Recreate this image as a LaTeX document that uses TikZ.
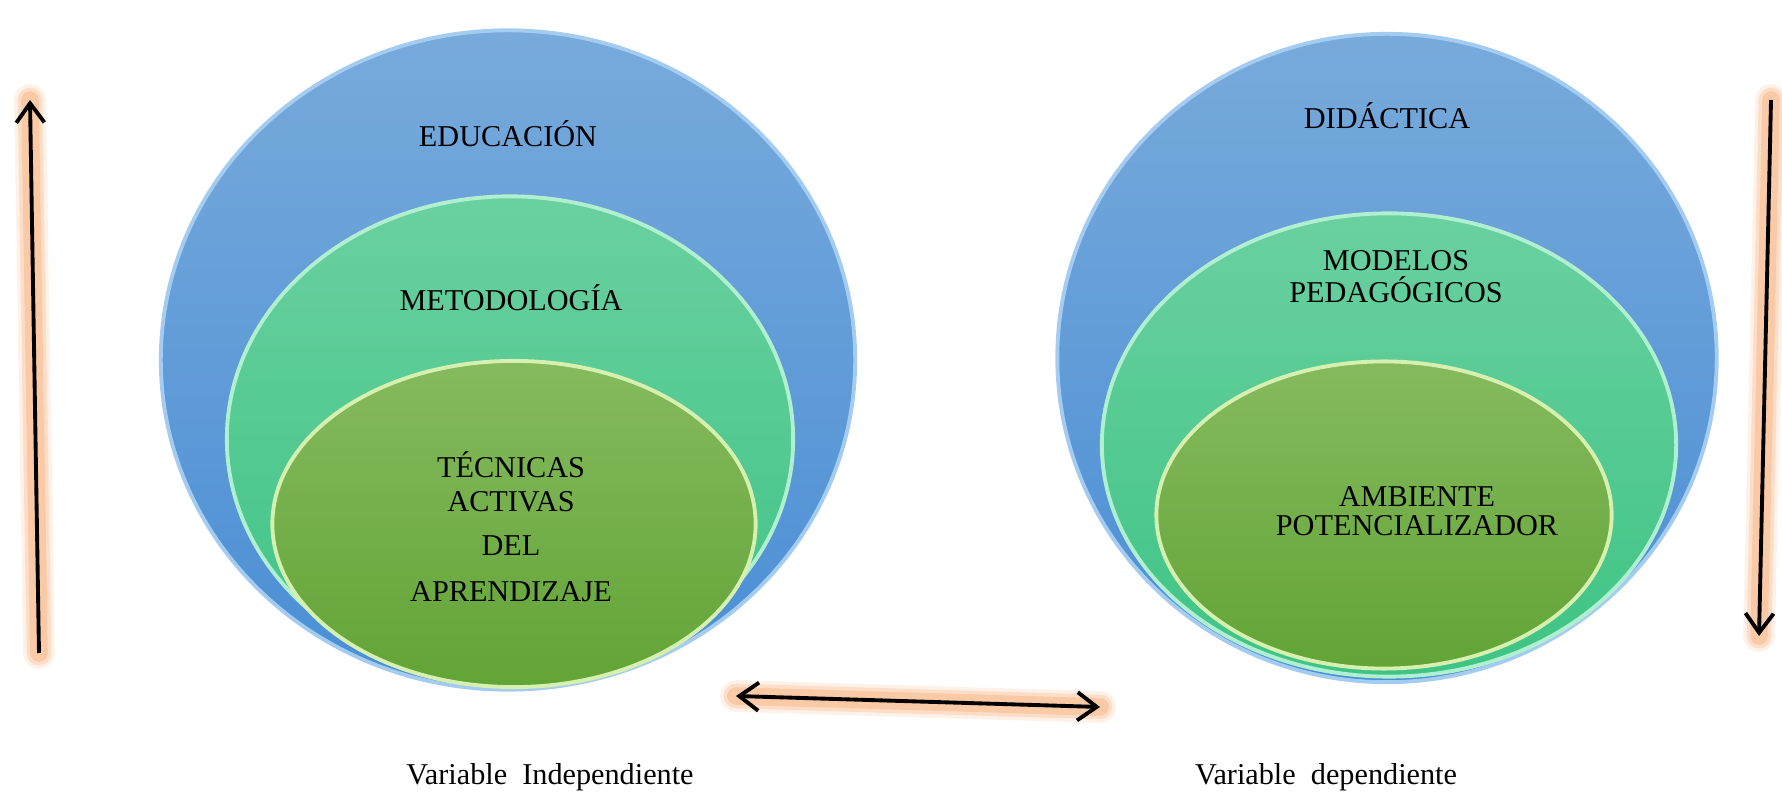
\documentclass[tikz,border=0pt]{standalone}
\usepackage{fontspec}
\setmainfont{Liberation Serif}
\usepackage[HTML]{xcolor}
\usepackage{tikz}
\usetikzlibrary{positioning, arrows.meta, shapes.geometric}

\definecolor{blueTop}{HTML}{78AADB}
\definecolor{blueBot}{HTML}{4A8ED5}
\definecolor{blueRim}{HTML}{A4CCF0}
\definecolor{tealTop}{HTML}{6AD0A0}
\definecolor{tealBot}{HTML}{3EC485}
\definecolor{tealRim}{HTML}{B0F0D0}
\definecolor{leafTop}{HTML}{86BA5E}
\definecolor{leafBot}{HTML}{62A436}
\definecolor{leafRim}{HTML}{D6F0B0}
\definecolor{glowCol}{HTML}{F8B07C}

\begin{document}
\begin{tikzpicture}[
    x=0.01cm, y=-0.01cm,
    >={Straight Barb[length=5.5pt,width=8pt]},
    every node/.style={font=\fontsize{8.6}{9.7}\selectfont},
    bubble/.style={ellipse, inner sep=0pt, outer sep=0pt, line width=1.1pt},
    bigEll/.style={bubble, top color=blueTop, bottom color=blueBot, draw=blueRim},
    midEll/.style={bubble, top color=tealTop, bottom color=tealBot, draw=tealRim},
    smallEll/.style={bubble, top color=leafTop, bottom color=leafBot, draw=leafRim},
    txt/.style={align=center, inner sep=0pt},
    glowA/.style={line width=9pt, draw=glowCol, opacity=0.18, line cap=round},
    glowB/.style={line width=7pt, draw=glowCol, opacity=0.3, line cap=round},
    glowC/.style={line width=5pt, draw=glowCol, opacity=0.45, line cap=round},
    arrowline/.style={line width=1.1pt}
]
    \useasboundingbox (0,0) rectangle (1782,795);

    % Left circles
    \node[bigEll, minimum width=6.94cm, minimum height=6.59cm] (E) at (508,360) {};
    \node[midEll, minimum width=5.66cm, minimum height=4.85cm] (M) at (510,439) {};
    \node[smallEll, minimum width=4.83cm, minimum height=3.26cm] (T) at (514,524) {};

    % Right circles
    \node[bigEll, minimum width=6.59cm, minimum height=6.48cm] (D) at (1387,358) {};
    \node[midEll, minimum width=5.74cm, minimum height=4.63cm] (P) at (1389,445) {};
    \node[smallEll, minimum width=4.55cm, minimum height=3.07cm] (A) at (1384,515) {};

    % Labels
    \node[txt] (tE) at (508,134) {EDUCACIÓN};
    \node[txt] (tM) at (511,298) {METODOLOGÍA};
    \node[txt] (tT) at (511,527) {TÉCNICAS\\ACTIVAS\\[2.8pt]DEL\\[3.4pt]APRENDIZAJE};
    \node[txt] (tD) at (1387,116) {DIDÁCTICA};
    \node[txt] (tP) at (1396,277) {MODELOS\\[-0.6pt]PEDAGÓGICOS};
    \node[txt] (tA) at (1417,511) {AMBIENTE\\[-1.4pt]POTENCIALIZADOR};
    \node[txt] (vI) at (550,777) {Variable\ \ Independiente};
    \node[txt] (vD) at (1326,777) {Variable\ \ dependiente};

    % Arrow ends
    \coordinate (L1) at (39,653);
    \coordinate (L2) at (30,100);
    \coordinate (R1) at (1771,100);
    \coordinate (R2) at (1759,636);
    \coordinate (B1) at (736,696);
    \coordinate (B2) at (1100,707);

    % Draw arrows
    \foreach \g in {glowA, glowB, glowC} {
        \draw[\g] (L1) -- (L2);
        \draw[\g] (R1) -- (R2);
        \draw[\g] (B1) -- (B2);
    }
    \draw[->, arrowline] (L1) -- (L2);
    \draw[->, arrowline] (R1) -- (R2);
    \draw[<->, arrowline] (B1) -- (B2);
\end{tikzpicture}
\end{document}
